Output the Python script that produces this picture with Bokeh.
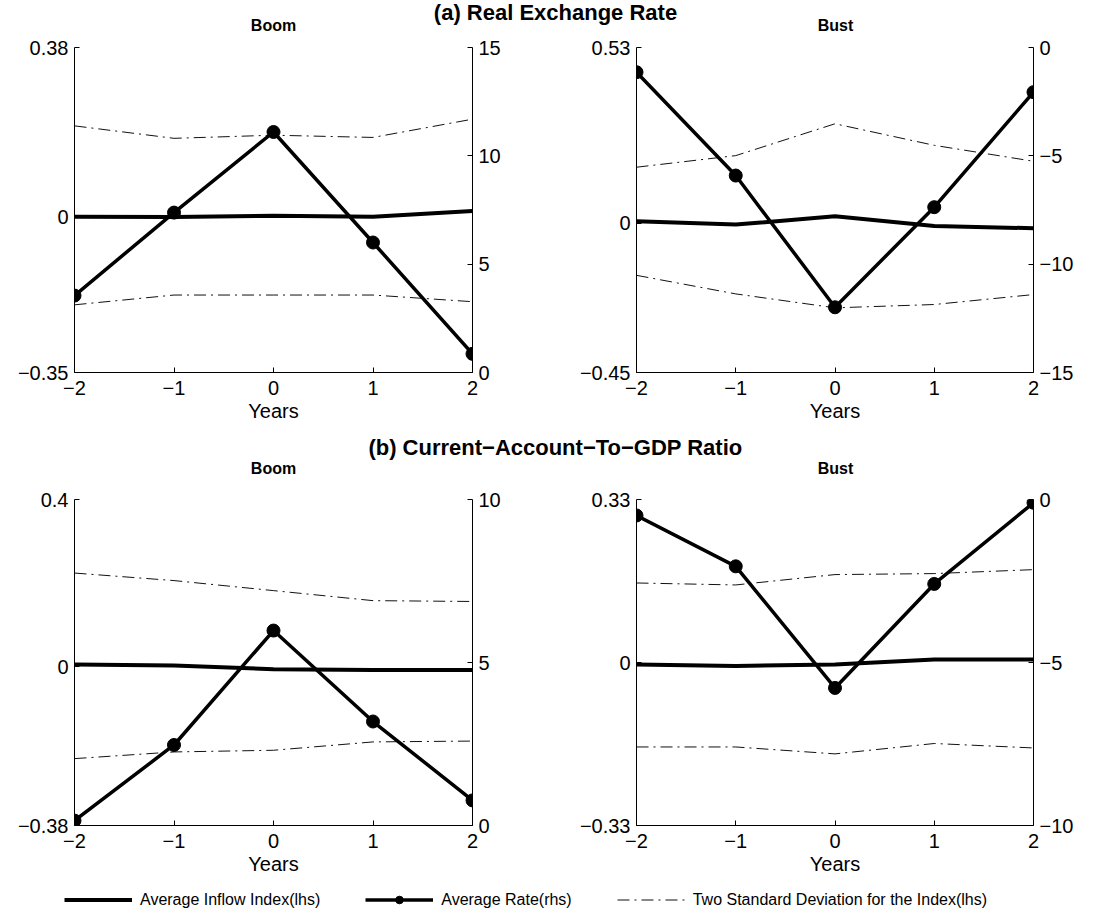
from bokeh.plotting import figure
from bokeh.layouts import column, row
from bokeh.models import (Range1d, LinearAxis, FixedTicker, CustomJSTickFormatter,
                          Label, Legend, LegendItem)
from bokeh.embed import file_html
from bokeh.resources import INLINE

# ---------------- data ----------------
years = [-2, -1, 0, 1, 2]

section_titles = ["(a) Real Exchange Rate", "(b) Current\u2212Account\u2212To\u2212GDP Ratio"]
panel_titles = ["Boom", "Bust"]

# (a) Real exchange rate - Boom
rer_boom_inflow = [0.0, -0.001, 0.002, 0.0, 0.013]
rer_boom_rate = [3.55, 7.38, 11.1, 6.0, 0.86]
rer_boom_sd_up = [0.204, 0.176, 0.183, 0.178, 0.219]
rer_boom_sd_lo = [-0.198, -0.176, -0.176, -0.176, -0.191]
rer_boom_lticks = [-0.35, 0, 0.38]
rer_boom_rticks = [0, 5, 10, 15]

# (a) Real exchange rate - Bust
rer_bust_inflow = [0.006, -0.004, 0.021, -0.008, -0.015]
rer_bust_rate = [-1.14, -5.91, -11.99, -7.37, -2.06]
rer_bust_sd_up = [0.169, 0.204, 0.300, 0.235, 0.187]
rer_bust_sd_lo = [-0.157, -0.213, -0.255, -0.245, -0.215]
rer_bust_lticks = [-0.45, 0, 0.53]
rer_bust_rticks = [-15, -10, -5, 0]

# (b) Current account to GDP - Boom
ca_boom_inflow = [0.005, 0.003, -0.006, -0.008, -0.008]
ca_boom_rate = [0.15, 2.47, 5.98, 3.19, 0.77]
ca_boom_sd_up = [0.224, 0.206, 0.182, 0.158, 0.156]
ca_boom_sd_lo = [-0.220, -0.204, -0.200, -0.180, -0.178]
ca_boom_lticks = [-0.38, 0, 0.4]
ca_boom_rticks = [0, 5, 10]

# (b) Current account to GDP - Bust
ca_bust_inflow = [-0.004, -0.007, -0.004, 0.006, 0.006]
ca_bust_rate = [-0.49, -2.05, -5.78, -2.59, -0.10]
ca_bust_sd_up = [0.161, 0.157, 0.178, 0.180, 0.188]
ca_bust_sd_lo = [-0.171, -0.171, -0.185, -0.164, -0.173]
ca_bust_lticks = [-0.33, 0, 0.33]
ca_bust_rticks = [-10, -5, 0]

legend_labels = ["Average Inflow Index(lhs)", "Average Rate(rhs)",
                 "Two Standard Deviation for the Index(lhs)"]
x_label = "Years"

# ---------------- style ----------------
FONT = "Liberation Sans"
TICK_SIZE = "20px"
DASHDOT = "12 5 2 5"
SD_COLOR = "#111111"
SD_WIDTH = 1.0

fmt_code = "return (tick < 0 ? '\u2212' : '') + Math.abs(tick).toString();"


def style_axis(ax, ticks):
    ax.ticker = FixedTicker(ticks=ticks)
    ax.formatter = CustomJSTickFormatter(code=fmt_code)
    ax.major_tick_in = 5
    ax.major_tick_out = 0
    ax.minor_tick_line_color = None
    ax.axis_line_color = "black"
    ax.axis_line_width = 1
    ax.major_tick_line_color = "black"
    ax.major_label_text_font = FONT
    ax.major_label_text_font_size = TICK_SIZE
    ax.major_label_text_color = "black"
    ax.major_label_standoff = 6


def panel(inflow, rate, sd_up, sd_lo, lticks, rticks, width, height,
          mb_left, mb_right, mb_top, mb_bottom):
    p = figure(width=width, height=height, output_backend="svg", toolbar_location=None,
               x_range=Range1d(years[0], years[-1]),
               y_range=Range1d(lticks[0], lticks[-1]),
               min_border_left=mb_left, min_border_right=mb_right,
               min_border_top=mb_top, min_border_bottom=mb_bottom)
    p.extra_y_ranges = {"rhs": Range1d(rticks[0], rticks[-1])}
    p.add_layout(LinearAxis(y_range_name="rhs"), "right")
    p.grid.visible = False
    p.outline_line_color = None
    p.background_fill_color = "white"
    p.border_fill_color = "white"

    style_axis(p.xaxis[0], years)
    style_axis(p.yaxis[0], lticks)
    style_axis(p.yaxis[1], rticks)
    p.xaxis[0].major_label_standoff = 8
    p.xaxis[0].axis_label = x_label
    p.xaxis[0].axis_label_text_font = FONT
    p.xaxis[0].axis_label_text_font_size = TICK_SIZE
    p.xaxis[0].axis_label_text_font_style = "normal"
    p.xaxis[0].axis_label_text_color = "black"
    p.xaxis[0].axis_label_standoff = 2

    p.line(years, sd_up, line_color=SD_COLOR, line_width=SD_WIDTH, line_dash=DASHDOT)
    p.line(years, sd_lo, line_color=SD_COLOR, line_width=SD_WIDTH, line_dash=DASHDOT)
    p.line(years, inflow, line_color="black", line_width=4)
    p.line(years, rate, y_range_name="rhs", line_color="black", line_width=3.5)
    p.scatter(years, rate, y_range_name="rhs", size=13, color="black")
    return p


def header(width, height, texts):
    h = figure(width=width, height=height, output_backend="svg", toolbar_location=None,
               x_range=Range1d(0, 1), y_range=Range1d(0, 1),
               x_axis_location=None, y_axis_location=None,
               min_border=0)
    h.grid.visible = False
    h.outline_line_color = None
    for txt, x, y, size in texts:
        h.add_layout(Label(x=x, y=y, x_units="screen", y_units="screen", text=txt,
                           text_font=FONT, text_font_size=size, text_font_style="bold",
                           text_align="center", text_baseline="middle", text_color="black"))
    return h


W_L, W_R = 557, 555
TOP_H, BOT_H = 395, 397

h1 = header(W_L + W_R, 35, [(section_titles[0], 555, 23, "22px"),
                            (panel_titles[0], 273, 10, "16px"),
                            (panel_titles[1], 835, 10, "16px")])

p1 = panel(rer_boom_inflow, rer_boom_rate, rer_boom_sd_up, rer_boom_sd_lo,
           rer_boom_lticks, rer_boom_rticks, W_L, TOP_H, 74, 85, 12, 58)
p2 = panel(rer_bust_inflow, rer_bust_rate, rer_bust_sd_up, rer_bust_sd_lo,
           rer_bust_lticks, rer_bust_rticks, W_R, TOP_H, 79, 79, 12, 58)

h2 = header(W_L + W_R, 56, [(section_titles[1], 555, 39, "22px"),
                            (panel_titles[0], 273, 18, "16px"),
                            (panel_titles[1], 835, 18, "16px")])

p3 = panel(ca_boom_inflow, ca_boom_rate, ca_boom_sd_up, ca_boom_sd_lo,
           ca_boom_lticks, ca_boom_rticks, W_L, BOT_H, 74, 85, 13, 58)
p4 = panel(ca_bust_inflow, ca_bust_rate, ca_bust_sd_up, ca_bust_sd_lo,
           ca_bust_lticks, ca_bust_rticks, W_R, BOT_H, 79, 79, 13, 58)

# legend strip: renderers carry the Boom/CA series but sit outside the visible range
lf = figure(width=W_L + W_R, height=29, output_backend="svg", toolbar_location=None,
            x_range=Range1d(100, 101), y_range=Range1d(100, 101),
            x_axis_location=None, y_axis_location=None, min_border=0)
lf.grid.visible = False
lf.outline_line_color = None
r_in = lf.line(years, ca_boom_inflow, line_color="black", line_width=4)
r_rate_l = lf.line(years, ca_boom_rate, line_color="black", line_width=3.5)
r_rate_m = lf.scatter(years, ca_boom_rate, size=13, color="black")
r_sd = lf.line(years, ca_boom_sd_up, line_color=SD_COLOR, line_width=SD_WIDTH, line_dash=DASHDOT)
legend = Legend(items=[LegendItem(label=legend_labels[0], renderers=[r_in]),
                       LegendItem(label=legend_labels[1], renderers=[r_rate_l, r_rate_m]),
                       LegendItem(label=legend_labels[2], renderers=[r_sd])],
                orientation="horizontal", location=(64, 3),
                glyph_width=68, glyph_height=19, label_standoff=8, spacing=45,
                padding=0, margin=0, border_line_color=None,
                background_fill_alpha=0,
                label_text_font=FONT, label_text_font_size="16px",
                label_text_color="black")
lf.add_layout(legend)

layout = column(h1, row(p1, p2), h2, row(p3, p4), lf)

with open("out.html", "w", encoding="utf-8") as f:
    f.write(file_html(layout, INLINE))
